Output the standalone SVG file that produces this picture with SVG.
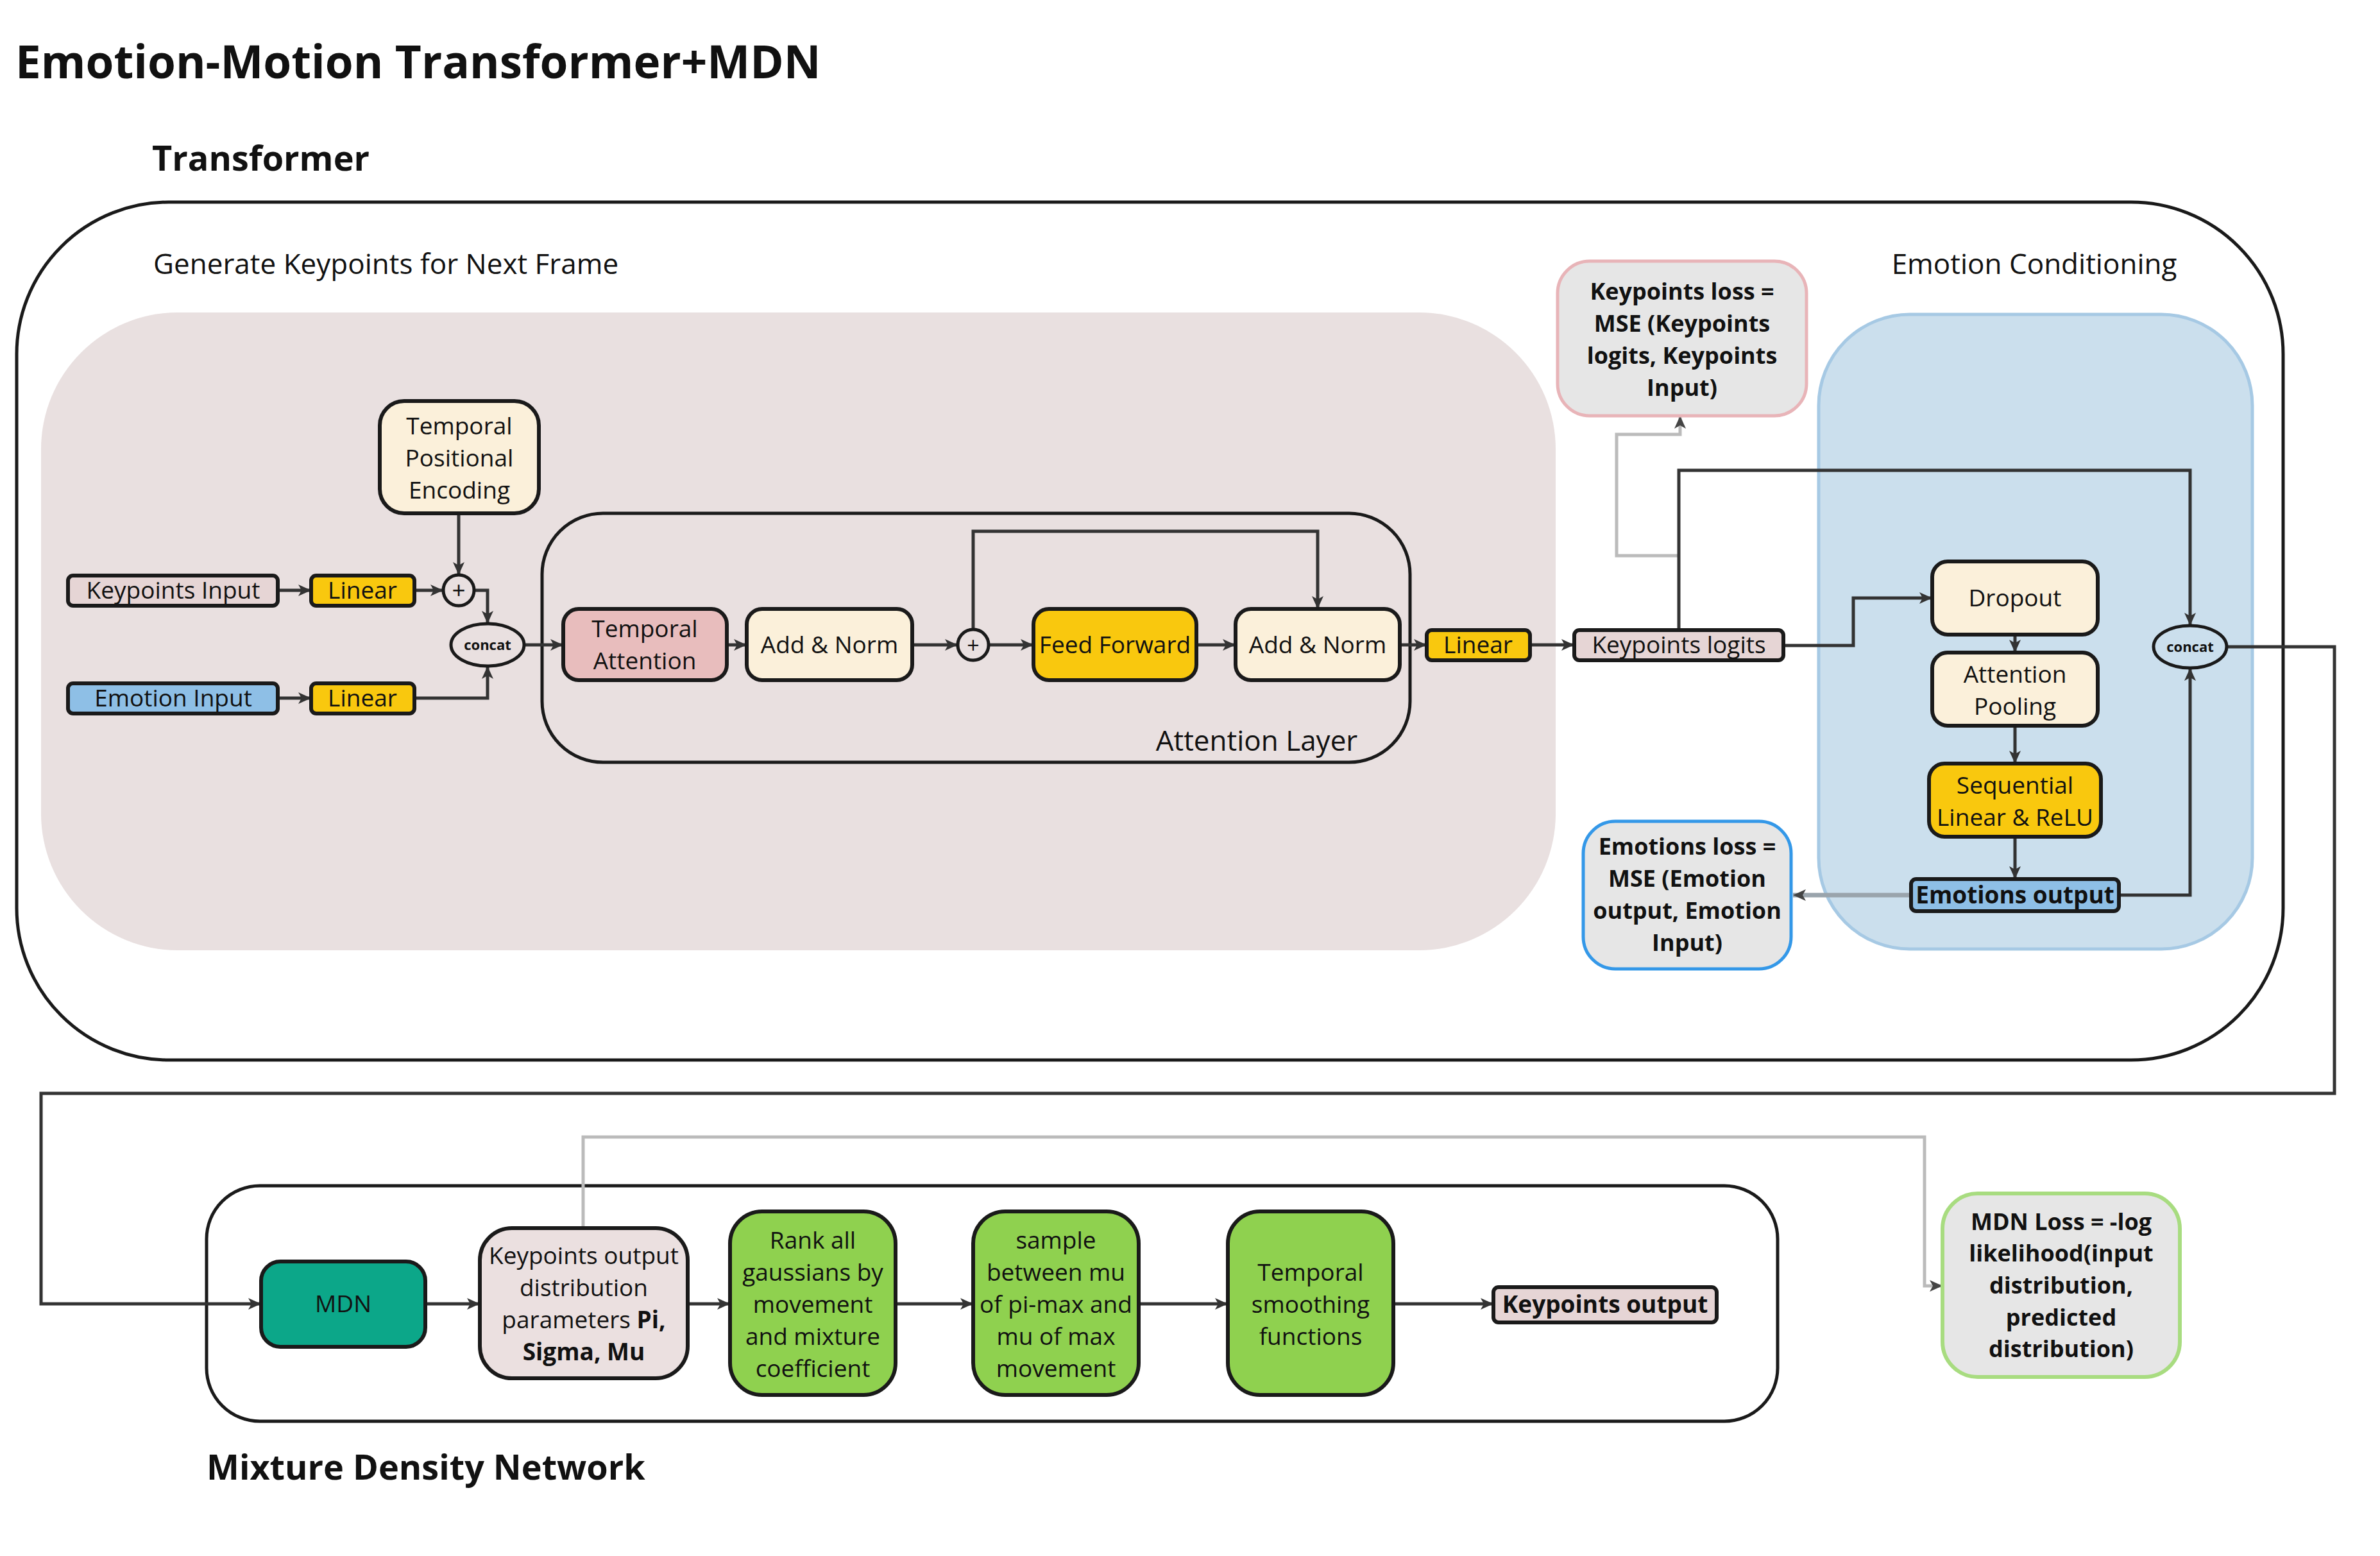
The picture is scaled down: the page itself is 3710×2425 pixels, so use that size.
<svg xmlns="http://www.w3.org/2000/svg" width="3710" height="2425" viewBox="0 0 3710 2425">
<defs>
<style>
text{font-family:"Open Sans","Noto Sans","DejaVu Sans",sans-serif;fill:#111}
.t{font-size:37px;text-anchor:middle}
.b{font-weight:700}
.lab{font-size:44px}
.h{font-size:54px;font-weight:700}
.node{stroke:#1a1a1a;stroke-width:6}
.cont{fill:none;stroke:#1a1a1a;stroke-width:5}
.c{fill:none;stroke:#333;stroke-width:5}
.g{fill:none;stroke:#bbbbbb;stroke-width:5}
.cream{fill:#fbf0da}
.yel{fill:#f9c80e}
.pk{fill:#e6d5d5}
.bl{fill:#8ebfe6}
.grn{fill:#8fd14f}
</style>
<marker id="a" markerUnits="userSpaceOnUse" markerWidth="22" markerHeight="22" viewBox="0 0 22 22" refX="20" refY="11" orient="auto"><path d="M0,2 L20,11 L0,20 L5,11 z" fill="#333"/></marker>
<marker id="ag" markerUnits="userSpaceOnUse" markerWidth="22" markerHeight="22" viewBox="0 0 22 22" refX="20" refY="11" orient="auto"><path d="M0,2 L20,11 L0,20 L5,11 z" fill="#444"/></marker>
</defs>
<rect width="3710" height="2425" fill="#fff"/>

<text x="24" y="122" style="font-size:71px;font-weight:700">Emotion-Motion Transformer+MDN</text>
<text x="237" y="266" class="h">Transformer</text>
<text x="322" y="2306" class="h">Mixture Density Network</text>

<g id="transformer">
<rect x="26" y="315" width="3533" height="1337" rx="237" class="cont"/>
</g>
<g id="keypoint-panel">
<rect x="64" y="487" width="2361" height="994" rx="213" fill="#e9e0e0"/>
<text x="239" y="427" class="lab">Generate Keypoints for Next Frame</text>
</g>
<g id="emotion-panel">
<rect x="2835" y="490" width="676" height="989" rx="142" fill="#cbdfed" stroke="#a6c9e4" stroke-width="5"/>
<text x="3171" y="427" class="lab" text-anchor="middle">Emotion Conditioning</text>
</g>
<g id="attention-layer">
<rect x="845" y="800" width="1353" height="388" rx="95" class="cont"/>
<text x="1959" y="1170" class="lab" text-anchor="middle">Attention Layer</text>
</g>
<g id="mdn-block">
<rect x="322" y="1848" width="2449" height="367" rx="83" class="cont"/>
</g>

<g id="connectors">
<path class="c" marker-end="url(#a)" d="M433,920 H485"/>
<path class="c" marker-end="url(#a)" d="M646,920 H691"/>
<path class="c" marker-end="url(#a)" d="M715,800 V896"/>
<path class="c" marker-end="url(#a)" d="M739,920 H760 V972"/>
<path class="c" marker-end="url(#a)" d="M433,1088 H485"/>
<path class="c" marker-end="url(#a)" d="M646,1088 H760 V1038"/>
<path class="c" marker-end="url(#a)" d="M817,1005 H878"/>
<path class="c" marker-end="url(#a)" d="M1133,1005 H1164"/>
<path class="c" marker-end="url(#a)" d="M1422,1005 H1493"/>
<path class="c" marker-end="url(#a)" d="M1541,1005 H1611"/>
<path class="c" marker-end="url(#a)" d="M1517,981 V828 H2054 V949"/>
<path class="c" marker-end="url(#a)" d="M1865,1005 H1926"/>
<path class="c" marker-end="url(#a)" d="M2182,1005 H2224"/>
<path class="c" marker-end="url(#a)" d="M2385,1005 H2454"/>
<path class="g" marker-end="url(#ag)" d="M2617,866 H2520 V677 H2619 V648"/>
<path class="c" marker-end="url(#a)" d="M2617,982 V733 H3414 V975"/>
<path class="c" marker-end="url(#a)" d="M2780,1006 H2889 V932 H3012"/>
<path class="c" marker-end="url(#a)" d="M3141,989 V1017"/>
<path class="c" marker-end="url(#a)" d="M3141,1131 V1190"/>
<path class="c" marker-end="url(#a)" d="M3141,1304 V1370"/>
<path class="c" marker-end="url(#a)" d="M3303,1395 H3414 V1041"/>
<path fill="none" stroke="#9aa4ac" stroke-width="7" marker-end="url(#ag)" d="M2979,1395 H2795"/>
<path class="c" marker-end="url(#a)" d="M3471,1008 H3639 V1704 H64 V2032 H407"/>
<path class="c" marker-end="url(#a)" d="M663,2032 H748"/>
<path class="c" marker-end="url(#a)" d="M1072,2032 H1138"/>
<path class="c" marker-end="url(#a)" d="M1396,2032 H1517"/>
<path class="c" marker-end="url(#a)" d="M1775,2032 H1914"/>
<path class="c" marker-end="url(#a)" d="M2172,2032 H2328"/>
<path class="g" marker-end="url(#ag)" d="M909,1914 V1772 H3000 V2004 H3028"/>
</g>

<g id="tpe">
<rect x="592" y="625" width="248" height="175" rx="38" class="node cream"/>
<text class="t"><tspan x="716" y="677">Temporal</tspan><tspan x="716" y="727">Positional</tspan><tspan x="716" y="777">Encoding</tspan></text>
</g>
<g id="keypoints-input">
<rect x="106" y="897" width="327" height="47" rx="8" class="node pk"/>
<text x="270" y="933" class="t">Keypoints Input</text>
</g>
<g id="linear1">
<rect x="485" y="897" width="161" height="47" rx="8" class="node yel"/>
<text x="565" y="933" class="t">Linear</text>
</g>
<g id="plus1">
<circle cx="715" cy="920" r="24" fill="none" stroke="#1a1a1a" stroke-width="5"/>
<text x="715" y="933" class="t">+</text>
</g>
<g id="concat1">
<ellipse cx="760" cy="1005" rx="57" ry="33" fill="none" stroke="#1a1a1a" stroke-width="5"/>
<text x="760" y="1013" class="b" style="font-size:22px" text-anchor="middle">concat</text>
</g>
<g id="emotion-input">
<rect x="106" y="1065" width="327" height="47" rx="8" class="node bl"/>
<text x="270" y="1101" class="t">Emotion Input</text>
</g>
<g id="linear2">
<rect x="485" y="1065" width="161" height="47" rx="8" class="node yel"/>
<text x="565" y="1101" class="t">Linear</text>
</g>
<g id="temporal-attention">
<rect x="878" y="949" width="255" height="111" rx="24" class="node" fill="#e8bdbd"/>
<text class="t"><tspan x="1005" y="993">Temporal</tspan><tspan x="1005" y="1043">Attention</tspan></text>
</g>
<g id="add-norm1">
<rect x="1164" y="949" width="258" height="111" rx="24" class="node cream"/>
<text x="1293" y="1018" class="t">Add &amp; Norm</text>
</g>
<g id="plus2">
<circle cx="1517" cy="1005" r="24" fill="none" stroke="#1a1a1a" stroke-width="5"/>
<text x="1517" y="1018" class="t" style="font-size:34px">+</text>
</g>
<g id="feed-forward">
<rect x="1611" y="949" width="254" height="111" rx="24" class="node yel"/>
<text x="1738" y="1018" class="t">Feed Forward</text>
</g>
<g id="add-norm2">
<rect x="1926" y="949" width="256" height="111" rx="24" class="node cream"/>
<text x="2054" y="1018" class="t">Add &amp; Norm</text>
</g>
<g id="linear3">
<rect x="2224" y="982" width="161" height="47" rx="8" class="node yel"/>
<text x="2304" y="1018" class="t">Linear</text>
</g>
<g id="keypoints-logits">
<rect x="2454" y="982" width="326" height="47" rx="8" class="node pk"/>
<text x="2617" y="1018" class="t">Keypoints logits</text>
</g>
<g id="keypoints-loss">
<rect x="2428" y="407" width="388" height="241" rx="50" fill="#e6e6e6" stroke="#e8b4b8" stroke-width="5"/>
<text class="t b" style="font-size:36px"><tspan x="2622" y="467">Keypoints loss =</tspan><tspan x="2622" y="517">MSE (Keypoints</tspan><tspan x="2622" y="567">logits, Keypoints</tspan><tspan x="2622" y="617">Input)</tspan></text>
</g>
<g id="dropout">
<rect x="3012" y="875" width="258" height="114" rx="24" class="node cream"/>
<text x="3141" y="945" class="t">Dropout</text>
</g>
<g id="attention-pooling">
<rect x="3012" y="1017" width="258" height="114" rx="24" class="node cream"/>
<text class="t"><tspan x="3141" y="1064">Attention</tspan><tspan x="3141" y="1114">Pooling</tspan></text>
</g>
<g id="sequential">
<rect x="3007" y="1190" width="268" height="114" rx="24" class="node yel"/>
<text class="t"><tspan x="3141" y="1237">Sequential</tspan><tspan x="3141" y="1287">Linear &amp; ReLU</tspan></text>
</g>
<g id="emotions-output">
<rect x="2979" y="1370" width="324" height="50" rx="8" class="node bl"/>
<text x="3141" y="1408" class="t b">Emotions output</text>
</g>
<g id="concat2">
<ellipse cx="3414" cy="1008" rx="57" ry="33" fill="none" stroke="#1a1a1a" stroke-width="5"/>
<text x="3414" y="1016" class="b" style="font-size:22px" text-anchor="middle">concat</text>
</g>
<g id="emotions-loss">
<rect x="2468" y="1280" width="324" height="230" rx="50" fill="#e6e6e6" stroke="#3498e8" stroke-width="5"/>
<text class="t b" style="font-size:36px"><tspan x="2630" y="1332">Emotions loss =</tspan><tspan x="2630" y="1382">MSE (Emotion</tspan><tspan x="2630" y="1432">output, Emotion</tspan><tspan x="2630" y="1482">Input)</tspan></text>
</g>
<g id="mdn">
<rect x="407" y="1966" width="256" height="133" rx="30" class="node" fill="#0ca789"/>
<text x="535" y="2045" class="t">MDN</text>
</g>
<g id="params">
<rect x="748" y="1914" width="324" height="234" rx="50" class="node" fill="#ebe0e0"/>
<text class="t"><tspan x="910" y="1970">Keypoints output</tspan><tspan x="910" y="2020">distribution</tspan><tspan x="910" y="2070">parameters <tspan class="b">Pi,</tspan></tspan><tspan x="910" y="2120" class="b">Sigma, Mu</tspan></text>
</g>
<g id="rank">
<rect x="1138" y="1888" width="258" height="286" rx="50" class="node grn"/>
<text class="t"><tspan x="1267" y="1946">Rank all</tspan><tspan x="1267" y="1996">gaussians by</tspan><tspan x="1267" y="2046">movement</tspan><tspan x="1267" y="2096">and mixture</tspan><tspan x="1267" y="2146">coefficient</tspan></text>
</g>
<g id="sample">
<rect x="1517" y="1888" width="258" height="286" rx="50" class="node grn"/>
<text class="t"><tspan x="1646" y="1946">sample</tspan><tspan x="1646" y="1996">between mu</tspan><tspan x="1646" y="2046">of pi-max and</tspan><tspan x="1646" y="2096">mu of max</tspan><tspan x="1646" y="2146">movement</tspan></text>
</g>
<g id="smoothing">
<rect x="1914" y="1888" width="258" height="286" rx="50" class="node grn"/>
<text class="t"><tspan x="2043" y="1996">Temporal</tspan><tspan x="2043" y="2046">smoothing</tspan><tspan x="2043" y="2096">functions</tspan></text>
</g>
<g id="keypoints-output">
<rect x="2328" y="2006" width="348" height="55" rx="8" class="node pk"/>
<text x="2502" y="2046" class="t b">Keypoints output</text>
</g>
<g id="mdn-loss">
<rect x="3028" y="1860" width="370" height="286" rx="55" fill="#e6e6e6" stroke="#a8dc80" stroke-width="6"/>
<text class="t b" style="font-size:36px"><tspan x="3213" y="1917">MDN Loss = -log</tspan><tspan x="3213" y="1966">likelihood(input</tspan><tspan x="3213" y="2016">distribution,</tspan><tspan x="3213" y="2066">predicted</tspan><tspan x="3213" y="2115">distribution)</tspan></text>
</g>
</svg>
